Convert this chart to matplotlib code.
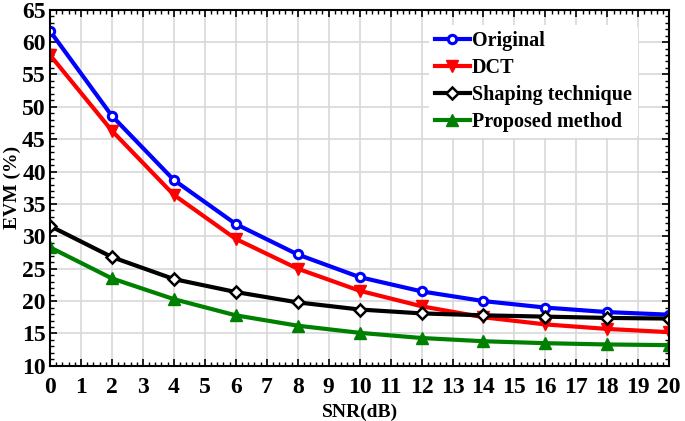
import matplotlib.pyplot as plt
from matplotlib.ticker import MultipleLocator

plt.rcParams['font.family'] = ['Liberation Serif', 'DejaVu Serif']
plt.rcParams['font.weight'] = 'bold'

snr = [0, 2, 4, 6, 8, 10, 12, 14, 16, 18, 20]
original = [61.7, 48.6, 38.7, 31.9, 27.2, 23.7, 21.5, 20.0, 19.0, 18.3, 17.9]
dct = [58.0, 46.3, 36.4, 29.6, 25.0, 21.6, 19.2, 17.5, 16.4, 15.7, 15.2]
shaping = [31.6, 26.8, 23.4, 21.4, 19.8, 18.7, 18.1, 17.8, 17.6, 17.4, 17.3]
proposed = [28.3, 23.5, 20.3, 17.8, 16.2, 15.1, 14.3, 13.8, 13.5, 13.3, 13.2]

fig = plt.figure(figsize=(6.85, 4.21), dpi=100)
ax = fig.add_axes([0.073, 0.131, 0.904, 0.846])

ax.plot(snr, original, color='blue', lw=3, marker='o', ms=6, mfc='white', mew=2.2, label='Original')
ax.plot(snr, dct, color='red', lw=3, marker='v', ms=9, label='DCT')
ax.plot(snr, shaping, color='black', lw=3, marker='D', ms=6, mfc='white', mew=1.8, label='Shaping technique')
ax.plot(snr, proposed, color='green', lw=3, marker='^', ms=9, label='Proposed method')

ax.set_xlim(0, 20)
ax.set_ylim(10, 65)
ax.xaxis.set_major_locator(MultipleLocator(1))
ax.xaxis.set_minor_locator(MultipleLocator(0.2))
ax.yaxis.set_major_locator(MultipleLocator(5))
ax.yaxis.set_minor_locator(MultipleLocator(1))
ax.tick_params(which='both', direction='in', top=True, right=True)
ax.tick_params(which='major', length=5, width=1.2, labelsize=17)
ax.tick_params(axis='x', which='major', pad=8)
ax.tick_params(axis='y', which='major', pad=3)
ax.tick_params(which='minor', length=3, width=1)
for s in ax.spines.values():
    s.set_linewidth(1.5)
ax.grid(True, which='major', color='#d8d8d8', lw=1.2)
ax.set_axisbelow(True)

ax.set_xlabel('SNR(dB)', fontsize=14, fontweight='bold', labelpad=4)
ax.set_ylabel('EVM (%)', fontsize=14, fontweight='bold', labelpad=1)

ax.legend(loc='upper right', bbox_to_anchor=(0.965, 0.985), frameon=True,
          framealpha=1, edgecolor='none', handlelength=1.7, handletextpad=0.1,
          labelspacing=0.35, borderpad=0.3, prop={'weight': 'bold', 'size': 14.5})

fig.savefig('out.png', dpi=100)
